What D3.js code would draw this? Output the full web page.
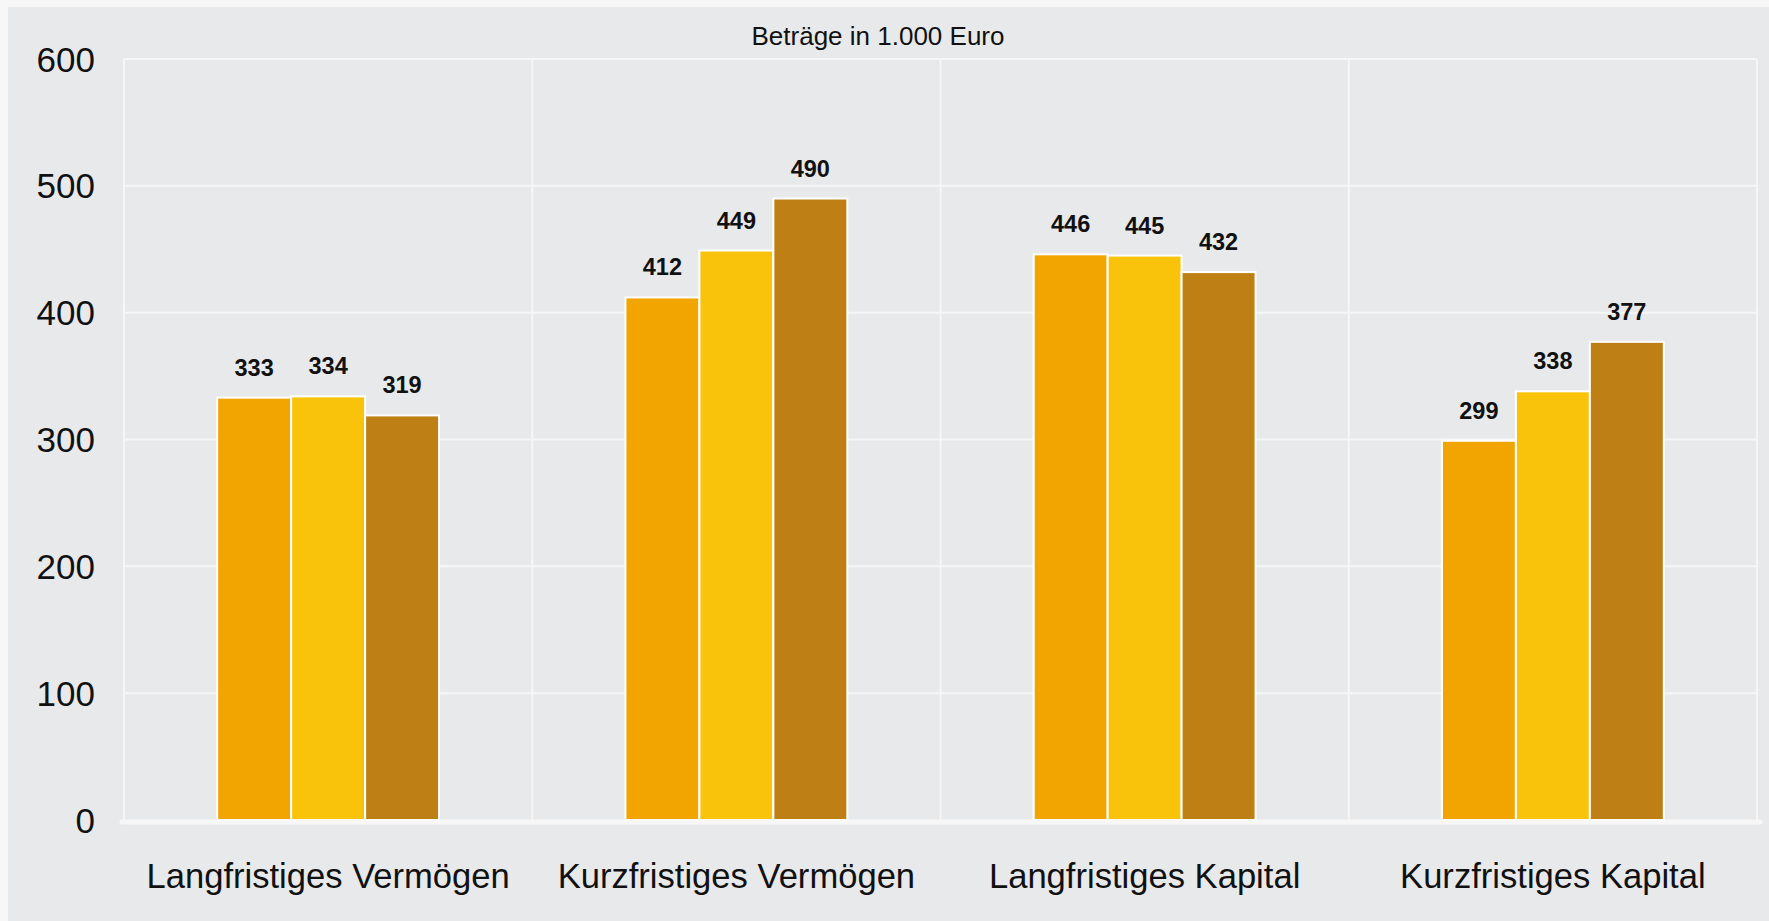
<!DOCTYPE html>
<html>
<head>
<meta charset="utf-8">
<script src="https://cdn.jsdelivr.net/npm/d3@7"></script>
<style>
    html, body { margin: 0; padding: 0; background: #f7f7f7; }
    #chart { width: 1769px; height: 921px; }
    text { font-family: Arial, "Liberation Sans", sans-serif; }
</style>
</head>
<body>
<div id="chart"></div>
<script>
var categories = ["Langfristiges Vermögen", "Kurzfristiges Vermögen", "Langfristiges Kapital", "Kurzfristiges Kapital"]
var series = ["Jahr 1", "Jahr 2", "Jahr 3"]
var values = [
    [333, 334, 319],
    [412, 449, 490],
    [446, 445, 432],
    [299, 338, 377]
]
var yTicks = [0, 100, 200, 300, 400, 500, 600]
var seriesColors = ["#f2a500", "#f9c30c", "#be8015"]
var title = "Beträge in 1.000 Euro"

var width = 1769, height = 921
var margin = {top: 59, right: 12, bottom: 101, left: 124}
var w = width - margin.left - margin.right
var h = height - margin.top - margin.bottom

var svg = d3.select("#chart").append("svg")
    .attr("width", width)
    .attr("height", height)

// grey panel
svg.append("rect")
    .attr("x", 8).attr("y", 7)
    .attr("width", width - 8).attr("height", height - 7)
    .attr("fill", "#e8e9eb")

svg.append("text")
    .attr("x", 878).attr("y", 45)
    .attr("text-anchor", "middle")
    .style("font-size", "26px")
    .attr("fill", "#111")
    .text(title)

var g = svg.append("g")
    .attr("transform", "translate(" + margin.left + "," + margin.top + ")")

var x0 = d3.scaleBand().domain(categories).range([0, w]).padding(0)
var x1 = d3.scaleBand().domain(series).range([0, x0.bandwidth()]).paddingInner(0).paddingOuter(1.26)
var y = d3.scaleLinear().domain([0, 600]).range([h, 0])

// horizontal grid
g.selectAll(".hgrid")
    .data(yTicks.filter(function(d) { return d > 0 }))
    .enter().append("line")
    .attr("class", "hgrid")
    .attr("x1", 0).attr("x2", w)
    .attr("y1", function(d) { return y(d) })
    .attr("y2", function(d) { return y(d) })
    .attr("stroke", "#f6f6f6")
    .attr("stroke-width", 2)

// vertical grid at category borders
var vx = categories.map(function(c) { return x0(c) }).concat([w])
g.selectAll(".vgrid")
    .data(vx)
    .enter().append("line")
    .attr("class", "vgrid")
    .attr("x1", function(d) { return d }).attr("x2", function(d) { return d })
    .attr("y1", 0).attr("y2", h)
    .attr("stroke", "#f6f6f6")
    .attr("stroke-width", 2)

// y tick labels
g.selectAll(".ytick")
    .data(yTicks)
    .enter().append("text")
    .attr("class", "ytick")
    .attr("x", -29)
    .attr("y", function(d) { return y(d) })
    .attr("dy", "0.36em")
    .attr("text-anchor", "end")
    .style("font-size", "35px")
    .attr("fill", "#111")
    .text(function(d) { return d })

var group = g.selectAll(".group")
    .data(values)
    .enter().append("g")
    .attr("class", "group")
    .attr("transform", function(d, i) { return "translate(" + x0(categories[i]) + ",0)" })

group.selectAll("rect")
    .data(function(d) { return d.map(function(v, j) { return {s: series[j], v: v, j: j} }) })
    .enter().append("rect")
    .attr("x", function(d) { return x1(d.s) })
    .attr("y", function(d) { return y(d.v) })
    .attr("width", x1.bandwidth())
    .attr("height", function(d) { return h - y(d.v) })
    .attr("fill", function(d) { return seriesColors[d.j] })
    .attr("stroke", "#ffffff")
    .attr("stroke-width", 2)

group.selectAll(".val")
    .data(function(d) { return d.map(function(v, j) { return {s: series[j], v: v} }) })
    .enter().append("text")
    .attr("class", "val")
    .attr("x", function(d) { return x1(d.s) + x1.bandwidth() / 2 })
    .attr("y", function(d) { return y(d.v) - 22 })
    .attr("text-anchor", "middle")
    .style("font-size", "23.5px")
    .style("font-weight", "bold")
    .attr("fill", "#111")
    .text(function(d) { return d.v })

// baseline
g.append("line")
    .attr("x1", -2).attr("x2", w + 3)
    .attr("y1", h + 2).attr("y2", h + 2)
    .attr("stroke", "#f7f7f7")
    .attr("stroke-width", 5)
    .attr("stroke-linecap", "round")

// category labels
g.selectAll(".xlabel")
    .data(categories)
    .enter().append("text")
    .attr("class", "xlabel")
    .attr("x", function(d) { return x0(d) + x0.bandwidth() / 2 })
    .attr("y", h + 68)
    .attr("text-anchor", "middle")
    .style("font-size", "34.6px")
    .attr("fill", "#111")
    .text(function(d) { return d })
</script>
</body>
</html>
